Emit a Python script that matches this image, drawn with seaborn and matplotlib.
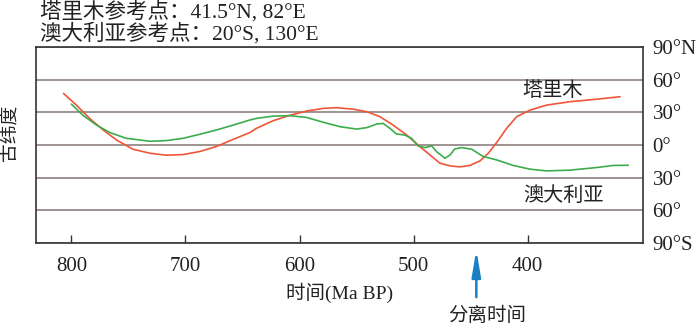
import matplotlib
matplotlib.use('Agg')
import matplotlib.pyplot as plt
import seaborn as sns
import pandas as pd

# Tarim palaeolatitude (Ma BP, degrees)
tarim_age = [806.8, 795.6, 784, 772, 760.5, 746, 731, 716.7, 702, 687.5, 673, 658,
             643.6, 637.7, 623, 608.5, 594, 579, 567.5, 553, 541, 529.6, 518, 506,
             494.5, 485.7, 477, 468, 459.5, 450.6, 441.8, 434.5, 427.2, 418.4,
             409.6, 398, 383.3, 363, 339.5, 319]
tarim_lat = [47.3, 36.6, 24.4, 13.7, 4.6, -3.9, -7.6, -9.4, -8.8, -6, -1.5, 5.2,
             11.3, 15.3, 22.3, 27.2, 31.1, 33.6, 34.2, 32.9, 30.5, 26, 18.3, 9.1,
             -1.5, -9.1, -16.7, -19.2, -20.1, -18.8, -14.6, -7.6, 2.2, 15.3,
             26, 32, 36.6, 39.7, 42, 44.3]

# Australia palaeolatitude
aus_age = [800, 790, 778, 766, 751.8, 731, 716.7, 702, 687.5, 673, 658, 643.6,
           637.7, 623, 608.5, 594, 579, 564.6, 550, 541, 532.5, 526.7, 520.8, 515,
           507.7, 501.8, 496, 490, 484, 480, 472.5, 468, 464, 458, 449, 439,
           427.2, 412.6, 398, 383.3, 363, 339.5, 325, 311.8]
aus_lat = [37.5, 27.4, 18.3, 11.3, 6.1, 3.4, 4, 6.1, 9.8, 13.7, 18.3, 22.9,
           24.4, 26.5, 26.9, 25.3, 20.8, 16.8, 14.6, 15.9, 19.2, 19.8, 15.3, 10.1,
           9.1, 6.1, -0.9, -2.4, -0.9, -6, -12.2, -9.1, -3.7, -2.4, -3.9, -10.6,
           -13.7, -18.8, -22.2, -23.8, -23.1, -20.7, -18.8, -18.6]

x_ticks = [800, 700, 600, 500, 400]
y_ticks = [-90, -60, -30, 0, 30, 60, 90]
y_labels = ['90°S', '60°', '30°', '0°', '30°', '60°', '90°N']
split_age = 445

sns.set_theme(style='white')
plt.rcParams['font.family'] = ['Liberation Serif', 'Noto Sans CJK SC']

df_t = pd.DataFrame({'age': tarim_age, 'lat': tarim_lat})
df_a = pd.DataFrame({'age': aus_age, 'lat': aus_lat})

fig = plt.figure(figsize=(7, 3.28), dpi=100)
ax = fig.add_axes([0.0514, 0.259, 0.867, 0.598])

ax.set_yticks(y_ticks)
ax.yaxis.grid(True, color='#968a88', lw=1.3)
ax.set_axisbelow(True)

sns.lineplot(data=df_t, x='age', y='lat', ax=ax, color='#f0553a', lw=1.2, sort=False)
sns.lineplot(data=df_a, x='age', y='lat', ax=ax, color='#3cac4c', lw=1.2, sort=False)

ax.set_xlim(831, 299)
ax.set_ylim(-90, 90)
ax.set_xticks(x_ticks)
ax.set_xticklabels([str(v) for v in x_ticks], fontsize=15, color='#222222')
ax.tick_params(axis='x', direction='in', length=6, width=1, color='#333333', pad=10, bottom=True)
ax.yaxis.tick_right()
ax.set_yticklabels(y_labels, fontsize=15, color='#222222')
ax.tick_params(axis='y', length=0, pad=7)
ax.set_xlabel('')
ax.set_ylabel('')
for s in ax.spines.values():
    s.set_color('#333333')
    s.set_linewidth(1.2)

# series labels inside the plot
ax.text(378, 49, '塔里木', fontsize=14.5, ha='center', va='center', color='#222222')
ax.text(369, -47, '澳大利亚', fontsize=14.5, ha='center', va='center', color='#222222')

fig.text(40 / 700, 1 - 12 / 328, '塔里木参考点：41.5°N, 82°E', fontsize=15.5,
         ha='left', va='center', color='#222222')
fig.text(40 / 700, 1 - 34 / 328, '澳大利亚参考点：20°S, 130°E', fontsize=15.5,
         ha='left', va='center', color='#222222')
fig.text(10 / 700, 1 - 133 / 328, '古纬度', fontsize=13.5, rotation=90,
         ha='center', va='center', color='#222222')
fig.text(340 / 700, 1 - 293 / 328, '时间(Ma BP)', fontsize=14,
         ha='center', va='center', color='#222222')
fig.text(487 / 700, 1 - 316 / 328, '分离时间', fontsize=14,
         ha='center', va='center', color='#222222')

ax.annotate('', xy=(split_age, -0.02), xycoords=('data', 'axes fraction'),
            xytext=(split_age, -0.29), textcoords=('data', 'axes fraction'),
            arrowprops=dict(arrowstyle='-|>,head_length=1.3,head_width=0.22',
                            color='#1b7fc4', lw=1.8))

fig.savefig('out.png', dpi=100)
